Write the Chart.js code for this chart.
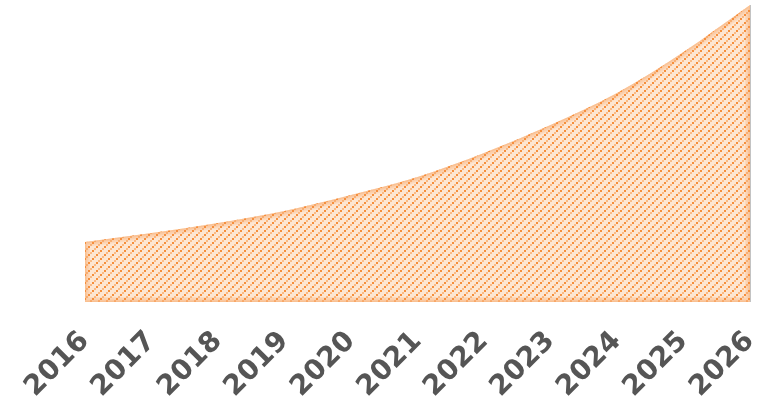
<!DOCTYPE html>
<html>
<head>
<meta charset="utf-8">
<script src="https://cdn.jsdelivr.net/npm/chart.js@4/dist/chart.umd.min.js"></script>
<style>
  html, body { margin: 0; padding: 0; background: #ffffff; }
  #wrap { width: 767px; height: 403px; position: relative; }
</style>
</head>
<body>
<div id="wrap"><canvas id="c" width="767" height="403"></canvas></div>
<script>
const categories = ['2016','2017','2018','2019','2020','2021','2022','2023','2024','2025','2026'];
const seriesValues = [6.0, 6.9, 7.9, 9.1, 10.7, 12.5, 14.9, 17.7, 20.9, 25.0, 29.7];

function makePattern() {
  const t = document.createElement('canvas');
  t.width = 8; t.height = 8;
  const g = t.getContext('2d');
  g.fillStyle = '#fde6d2';
  g.fillRect(0, 0, 8, 8);
  g.fillStyle = 'rgba(247,150,70,0.55)';
  g.fillRect(2, 4, 2, 2);
  g.fillRect(6, 0, 2, 2);
  g.fillStyle = '#f68e3a';
  g.fillRect(0, 6, 2, 2);
  g.fillRect(4, 2, 2, 2);
  return document.getElementById('c').getContext('2d').createPattern(t, 'repeat');
}

const glowPlugin = {
  id: 'glow',
  afterDatasetsDraw(chart) {
    const meta = chart.getDatasetMeta(0);
    const pts = meta.data;
    const line = meta.dataset;
    const ctx = chart.ctx;
    const yb = chart.scales.y.getPixelForValue(0);
    const last = pts[pts.length - 1];
    ctx.save();
    ctx.beginPath();
    line.path(ctx);
    ctx.lineTo(last.x, yb);
    ctx.lineTo(pts[0].x, yb);
    ctx.closePath();
    ctx.clip();
    [10, 7, 4, 2].forEach(w => {
      ctx.lineWidth = w;
      ctx.strokeStyle = 'rgba(247,150,70,0.14)';
      ctx.stroke();
    });
    ctx.restore();
    ctx.save();
    ctx.strokeStyle = 'rgba(170,170,170,0.7)';
    ctx.lineWidth = 1;
    ctx.beginPath();
    ctx.moveTo(Math.round(last.x) + 0.5, last.y);
    ctx.lineTo(Math.round(last.x) + 0.5, yb);
    ctx.stroke();
    ctx.restore();
  }
};

new Chart(document.getElementById('c'), {
  type: 'line',
  data: {
    labels: categories,
    datasets: [{
      data: seriesValues,
      fill: 'origin',
      backgroundColor: makePattern(),
      borderColor: 'rgba(247,150,70,0.0)',
      borderWidth: 0,
      pointRadius: 0,
      cubicInterpolationMode: 'monotone'
    }]
  },
  options: {
    responsive: false,
    animation: false,
    layout: { padding: { left: 85, right: 17, top: 5, bottom: 0 } },
    plugins: { legend: { display: false }, tooltip: { enabled: false } },
    scales: {
      x: {
        grid: { display: false },
        border: { display: false },
        afterFit(s) {
          s.paddingLeft = 0;
          s.paddingRight = 0;
          s.height = 101;
        },
        ticks: {
          minRotation: 45, maxRotation: 45,
          color: '#555555',
          font: { family: 'DejaVu Sans', weight: 'bold', size: 28 },
          padding: 15
        }
      },
      y: {
        display: false,
        min: 0,
        max: 29.7
      }
    }
  },
  plugins: [glowPlugin]
});
</script>
</body>
</html>
